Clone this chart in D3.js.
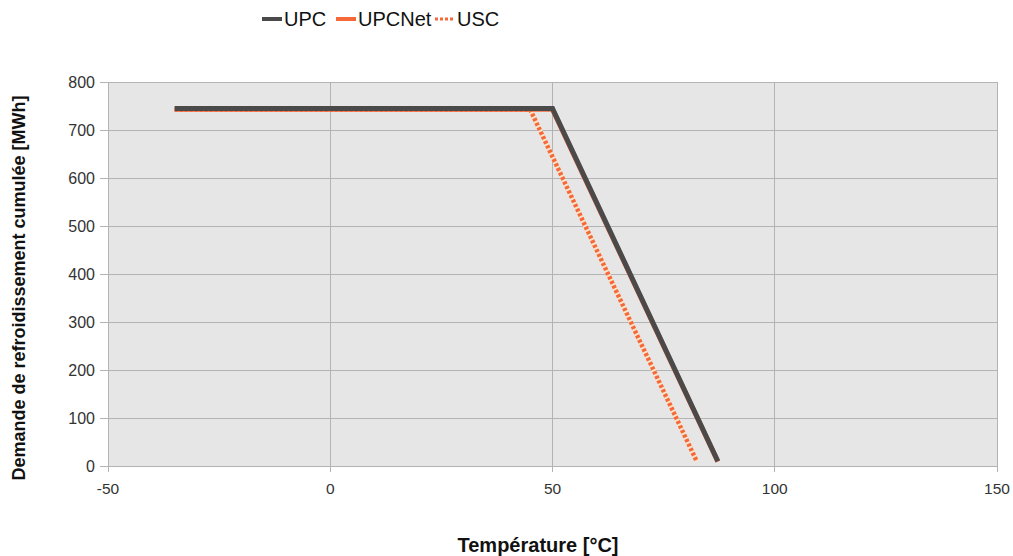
<!DOCTYPE html>
<html><head><meta charset="utf-8">
<script src="https://cdn.jsdelivr.net/npm/d3@7"></script>
<style>body{margin:0;background:#fff;}text{font-family:"Liberation Sans",Arial,sans-serif;}</style>
</head><body>
<svg id="c" width="1013" height="556"></svg>
<script>
const xTicks = [-50, 0, 50, 100, 150];
const yTicks = [0, 100, 200, 300, 400, 500, 600, 700, 800];
const seriesNames = ["UPC", "UPCNet", "USC"];
const upcT = [-35, 50, 87.2];
const upcV = [745, 745, 10];
const upcNetT = [-35, 50, 87.2];
const upcNetV = [743, 743, 9];
const uscT = [-35, 45, 82.5];
const uscV = [742, 742, 9];

const svg = d3.select("#c");
const x = d3.scaleLinear().domain([-50,150]).range([108,997]);
const y = d3.scaleLinear().domain([0,800]).range([466,82]);

svg.append("rect").attr("x",108).attr("y",82).attr("width",889).attr("height",384).attr("fill","#e6e6e6");

// grid
svg.append("g").selectAll("line").data(yTicks).join("line")
  .attr("x1",100).attr("x2",997).attr("y1",d=>y(d)).attr("y2",d=>y(d))
  .attr("stroke","#b3b3b3").attr("stroke-width",1).attr("shape-rendering","crispEdges");
svg.append("g").selectAll("line").data(xTicks).join("line")
  .attr("x1",d=>x(d)).attr("x2",d=>x(d)).attr("y1",82).attr("y2",472)
  .attr("stroke","#b3b3b3").attr("stroke-width",1).attr("shape-rendering","crispEdges");

// tick labels
svg.append("g").selectAll("text").data(yTicks).join("text")
  .attr("x",95).attr("y",d=>y(d)+5.5).attr("text-anchor","end")
  .attr("font-size",16).attr("fill","#333").text(d=>d);
svg.append("g").selectAll("text").data(xTicks).join("text")
  .attr("x",d=>x(d)).attr("y",494).attr("text-anchor","middle")
  .attr("font-size",15.5).attr("fill","#333").text(d=>d);

// axis titles
svg.append("text").attr("transform","translate(25,288) rotate(-90)")
  .attr("text-anchor","middle").attr("font-size",18).attr("font-weight","bold").attr("fill","#111")
  .text("Demande de refroidissement cumulée [MWh]");
svg.append("text").attr("x",538).attr("y",552).attr("text-anchor","middle")
  .attr("font-size",20).attr("font-weight","bold").attr("fill","#111").text("Température [°C]");

const line = d3.line().x(d=>x(d[0])).y(d=>y(d[1]));
const zip = (a,b)=>a.map((v,i)=>[v,b[i]]);
const colors = {UPC:"#4a4a4a", UPCNet:"#f4683a", USC:"#f4683a"};

svg.append("path").datum(zip(uscT,uscV)).attr("d",line).attr("fill","none")
  .attr("stroke","#fbe3c8").attr("stroke-width",4.5);
svg.append("path").datum(zip(uscT,uscV)).attr("d",line).attr("fill","none")
  .attr("stroke",colors.USC).attr("stroke-width",4.5).attr("stroke-dasharray","3,2");
svg.append("path").datum(zip(upcNetT,upcNetV)).attr("d",line).attr("fill","none")
  .attr("stroke",colors.UPCNet).attr("stroke-width",5);
svg.append("path").datum(zip(upcT,upcV)).attr("d",line).attr("fill","none")
  .attr("stroke",colors.UPC).attr("stroke-width",5);

// legend
const legX = [262, 336, 435];
const lg = svg.append("g");
seriesNames.forEach((n,i)=>{
  const l = lg.append("line").attr("x1",legX[i]).attr("x2",legX[i]+20).attr("y1",19).attr("y2",19)
    .attr("stroke",colors[n]).attr("stroke-width",4);
  if(n==="USC") l.attr("stroke-dasharray","3,2").attr("stroke-width",3);
  lg.append("text").attr("x",legX[i]+22).attr("y",26).attr("font-size",20).attr("fill","#111").text(n);
});
</script>
</body></html>
